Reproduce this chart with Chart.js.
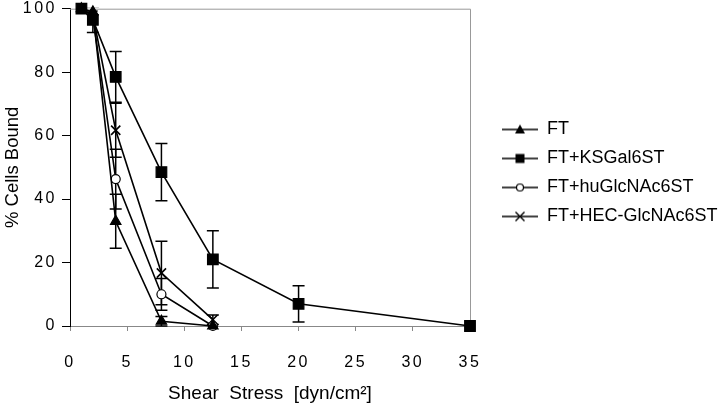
<!DOCTYPE html>
<html>
<head>
<meta charset="utf-8">
<script src="https://cdn.jsdelivr.net/npm/chart.js@4.4.1/dist/chart.umd.min.js"></script>
<style>
  html, body { margin: 0; padding: 0; background: #fff; }
</style>
</head>
<body>
<canvas id="myChart" width="720" height="409"></canvas>
<script>
'use strict';

// shear stress in dyn/cm2
const shear = [1, 2, 4, 8, 12.5, 20, 35];

// % cells bound per construct, with +/- error
const ftVals = [100, 99, 33, 1.5, 0];
const ftErr = [0, 0, 8.5, 1.5, 0];
const ksVals = [100, 96.5, 78.5, 48.5, 21, 7, 0];
const ksErr = [0, 4, 8, 9, 9, 5.7, 0];
const huVals = [100, 97.5, 46.3, 10, 0];
const huErr = [0, 0, 9.4, 5, 0];
const hecVals = [100, 98, 61.7, 16.7, 2];
const hecErr = [0, 0, 8.5, 10, 1.5];

const names = ['FT', 'FT+KSGal6ST', 'FT+huGlcNAc6ST', 'FT+HEC-GlcNAc6ST'];
const xTicks = [0, 5, 10, 15, 20, 25, 30, 35];
const yTicks = [0, 20, 40, 60, 80, 100];

const FONT = "'Liberation Sans', Arial, sans-serif";

function pts(vals) {
  return vals.map((v, i) => ({ x: shear[i], y: v }));
}

// little "line + marker" icons for the legend, like the old Excel legend
function legendIcon(kind) {
  const c = document.createElement('canvas');
  c.width = 57; c.height = 14;
  const g = c.getContext('2d');
  g.strokeStyle = '#000';
  g.fillStyle = '#000';
  g.lineWidth = 1.5;
  g.beginPath(); g.moveTo(21, 7); g.lineTo(57, 7); g.stroke();
  const cx = 39, cy = 7;
  if (kind === 'triangle') {
    g.beginPath(); g.moveTo(cx, cy - 5); g.lineTo(cx + 5, cy + 4); g.lineTo(cx - 5, cy + 4); g.closePath(); g.fill();
  } else if (kind === 'rect') {
    g.fillRect(cx - 4.5, cy - 4.5, 9, 9);
  } else if (kind === 'circle') {
    g.fillStyle = '#fff';
    g.lineWidth = 1.2;
    g.beginPath(); g.arc(cx, cy, 3.5, 0, Math.PI * 2); g.fill(); g.stroke();
  } else {
    g.lineWidth = 1.4;
    g.beginPath();
    g.moveTo(cx - 4.5, cy - 4.5); g.lineTo(cx + 4.5, cy + 4.5);
    g.moveTo(cx + 4.5, cy - 4.5); g.lineTo(cx - 4.5, cy + 4.5);
    g.stroke();
  }
  return c;
}

const icons = ['triangle', 'rect', 'circle', 'cross'].map(legendIcon);

function series(label, vals, errs, style, radius, fill) {
  return {
    label: label,
    data: pts(vals),
    errors: errs,
    borderColor: '#000',
    borderWidth: 1.6,
    pointStyle: style,
    pointRadius: radius,
    pointBackgroundColor: fill,
    pointBorderColor: '#000',
    pointBorderWidth: style === 'crossRot' ? 1.6 : 1.2,
    tension: 0,
    fill: false,
    clip: false
  };
}

// vertical error bars with caps
const errorBars = {
  id: 'errorBars',
  beforeDatasetsDraw(chart) {
    const { ctx, chartArea, scales: { x, y } } = chart;
    ctx.save();
    ctx.beginPath();
    ctx.rect(chartArea.left, chartArea.top - 1, chartArea.width, chartArea.height + 2);
    ctx.clip();
    ctx.strokeStyle = '#000';
    ctx.lineWidth = 1.5;
    chart.data.datasets.forEach(ds => {
      ds.data.forEach((p, i) => {
        const e = ds.errors[i];
        if (!e) return;
        const px = x.getPixelForValue(p.x);
        const hi = y.getPixelForValue(p.y + e);
        const lo = y.getPixelForValue(p.y - e);
        ctx.beginPath();
        ctx.moveTo(px, hi); ctx.lineTo(px, lo);
        ctx.moveTo(px - 6, hi); ctx.lineTo(px + 6, hi);
        ctx.moveTo(px - 6, lo); ctx.lineTo(px + 6, lo);
        ctx.stroke();
      });
    });
    ctx.restore();
  }
};

// grey top / right frame around the plot
const frame = {
  id: 'frame',
  beforeDatasetsDraw(chart) {
    const { ctx, chartArea: a } = chart;
    ctx.save();
    ctx.strokeStyle = '#999';
    ctx.lineWidth = 1;
    ctx.beginPath();
    ctx.moveTo(a.left, a.top + 0.5);
    ctx.lineTo(a.right + 0.5, a.top + 0.5);
    ctx.lineTo(a.right + 0.5, a.bottom);
    ctx.stroke();
    ctx.restore();
  }
};

// fixed legend column width, and legend centred a bit higher than the canvas middle
const legendBox = {
  id: 'legendBox',
  beforeUpdate(chart) {
    const lg = chart.legend;
    if (lg && !lg._wide) {
      const fit = lg.fit;
      lg.fit = function () { fit.call(this); this.width = 250; };
      lg._wide = true;
    }
  },
  afterLayout(chart) {
    const lg = chart.legend;
    lg.top = 0;
    lg.bottom = 346;
    lg.height = 346;
    // the old typewriter-ish spaced digits on the tick labels
    Object.values(chart.scales).forEach(s => {
      if (s._spaced) return;
      const drawLabels = s.drawLabels;
      s.drawLabels = function (area) {
        const c = this.ctx;
        const prev = c.letterSpacing;
        c.letterSpacing = '2.5px';
        drawLabels.call(this, area);
        c.letterSpacing = prev;
      };
      s._spaced = true;
    });
  }
};

const ctx = document.getElementById('myChart');

new Chart(ctx, {
  type: 'line',
  data: {
    datasets: [
      series(names[0], ftVals, ftErr, 'triangle', 6, '#000'),
      series(names[1], ksVals, ksErr, 'rect', 7.5, '#000'),
      series(names[2], huVals, huErr, 'circle', 4.5, '#fff'),
      series(names[3], hecVals, hecErr, 'crossRot', 6.5, '#000')
    ]
  },
  options: {
    responsive: false,
    animation: false,
    layout: { padding: { left: 0, top: 2, right: 0, bottom: 0 } },
    plugins: {
      tooltip: { enabled: false },
      legend: {
        position: 'right',
        align: 'center',
        labels: {
          usePointStyle: true,
          pointStyleWidth: 57,
          padding: 11,
          color: '#000',
          font: { family: FONT, size: 18 },
          generateLabels(chart) {
            return chart.data.datasets.map((ds, i) => ({
              text: ds.label,
              pointStyle: icons[i],
              fillStyle: '#000',
              strokeStyle: '#000',
              lineWidth: 0,
              hidden: false,
              datasetIndex: i
            }));
          }
        }
      }
    },
    scales: {
      x: {
        type: 'linear',
        min: 0,
        max: 35,
        afterBuildTicks(scale) { scale.ticks = xTicks.map(v => ({ value: v })); },
        afterFit(scale) { scale.height = 83; },
        grid: { display: true, drawOnChartArea: false, drawTicks: true, tickLength: 5, color: '#888' },
        border: { display: true, color: '#888', width: 1 },
        ticks: { color: '#000', padding: 22, maxRotation: 0, font: { family: FONT, size: 16 } },
        title: {
          display: true,
          text: 'Shear  Stress  [dyn/cm\u00B2]',
          color: '#000',
          font: { family: FONT, size: 19 },
          padding: { top: 4, bottom: 4 }
        }
      },
      y: {
        min: 0,
        max: 100,
        afterBuildTicks(scale) { scale.ticks = yTicks.map(v => ({ value: v })); },
        afterFit(scale) { scale.width = 70; scale.paddingTop = 7; },
        grid: { display: true, drawOnChartArea: false, drawTicks: true, tickLength: 8, color: '#000' },
        border: { display: true, color: '#000', width: 1 },
        ticks: { color: '#000', padding: 5, font: { family: FONT, size: 16 } },
        title: {
          display: true,
          text: '% Cells Bound',
          color: '#000',
          font: { family: FONT, size: 18.5 },
          padding: { top: 2, bottom: 2 }
        }
      }
    }
  },
  plugins: [frame, errorBars, legendBox]
});
</script>
</body>
</html>
